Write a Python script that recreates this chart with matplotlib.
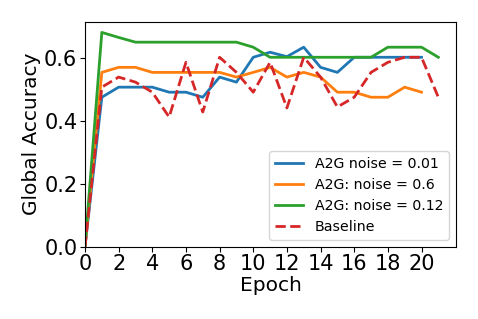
import numpy as np
import matplotlib
matplotlib.use('Agg')
import matplotlib.pyplot as plt

# accuracy per epoch
epochs_a = list(range(21))
epochs_b = list(range(22))
acc_001 = [0.0, 0.475, 0.507, 0.507, 0.507, 0.491, 0.491, 0.475, 0.539, 0.523, 0.602,
           0.618, 0.604, 0.634, 0.570, 0.554, 0.602, 0.602, 0.602, 0.602, 0.602]
acc_06 = [0.0, 0.554, 0.570, 0.570, 0.554, 0.554, 0.554, 0.554, 0.554, 0.539, 0.554,
          0.570, 0.539, 0.554, 0.539, 0.491, 0.491, 0.475, 0.475, 0.507, 0.491]
acc_012 = [0.0, 0.681, 0.665, 0.650, 0.650, 0.650, 0.650, 0.650, 0.650, 0.650, 0.634,
           0.602, 0.602, 0.602, 0.602, 0.602, 0.602, 0.602, 0.634, 0.634, 0.634, 0.602]
baseline = [0.0, 0.507, 0.539, 0.523, 0.491, 0.412, 0.586, 0.428, 0.602, 0.554, 0.491,
            0.586, 0.441, 0.602, 0.539, 0.444, 0.475, 0.554, 0.586, 0.602, 0.602, 0.475]

fig = plt.figure(figsize=(4.78, 3.19), dpi=100)
ax = fig.add_axes([85 / 478, 1 - 246.7 / 319, (456 - 85) / 478, (246.7 - 21.7) / 319])

ax.plot(epochs_a, acc_001, lw=2, label='A2G noise = 0.01')
ax.plot(epochs_a, acc_06, lw=2, label='A2G: noise = 0.6')
ax.plot(epochs_b, acc_012, lw=2, label='A2G: noise = 0.12')
ax.plot(epochs_b, baseline, '--', lw=2, label='Baseline')

ax.set_xlim(left=0)
ax.set_ylim(bottom=0)
ax.set_xticks(range(0, 21, 2))
ax.set_yticks([0.0, 0.2, 0.4, 0.6])
ax.tick_params(labelsize=15, pad=2)
ax.set_xlabel('Epoch', fontsize=14.5, labelpad=1)
ax.set_ylabel('Global Accuracy', fontsize=14.5, labelpad=2)
ax.legend(loc='lower right', fontsize=10.2)

fig.savefig('out.png', dpi=100)
